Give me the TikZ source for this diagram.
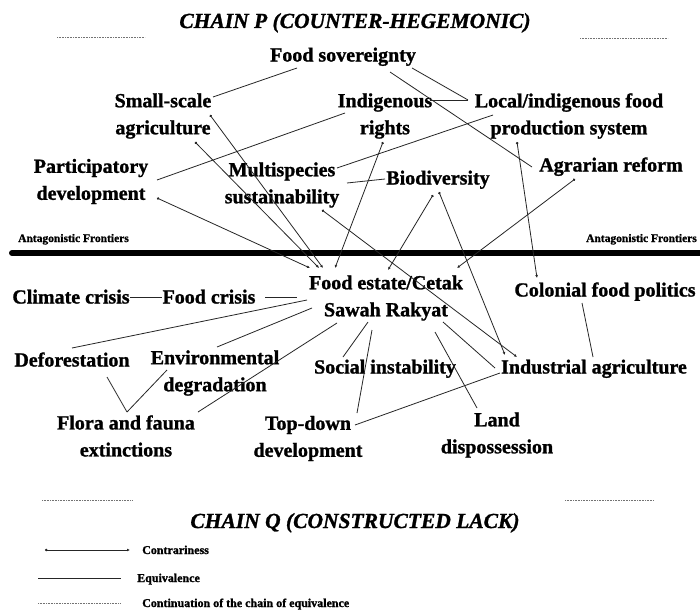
\documentclass[tikz,border=0pt]{standalone}
\usepackage{fontspec}
\setmainfont{Liberation Serif}[BoldFeatures={FakeBold=1.2},BoldItalicFeatures={FakeBold=1.2}]
\usetikzlibrary{arrows.meta}
\begin{document}
\begin{tikzpicture}[x=1pt,y=-1pt,
  lbl/.style={font=\bfseries\fontsize{20}{27}\selectfont, align=center, inner sep=0pt},
  ttl/.style={font=\bfseries\itshape\fontsize{21.5}{26}\selectfont, inner sep=0pt, anchor=base},
  small/.style={font=\bfseries\fontsize{11.5}{14}\selectfont, inner sep=0pt, anchor=base},
  legtxt/.style={font=\bfseries\fontsize{12}{14}\selectfont, inner sep=0pt, anchor=base west},
  eq/.style={line width=0.8pt, black!85},
  contra/.style={line width=0.8pt, black!85, {Circle[length=2.4pt]}-{Latex[length=3pt,width=2.8pt]}},
  dotline/.style={line width=0.6pt, black!55, dash pattern=on 0.8pt off 0.8pt},
  frontier/.style={line width=6pt, black, line cap=round}]
\useasboundingbox (0,0) rectangle (700,610);
\fill[white] (0,0) rectangle (700,610);

% titles and frames
\node[ttl] (tp) at (355,28) {CHAIN P (COUNTER-HEGEMONIC)};
\node[ttl] (tq) at (355,528) {CHAIN Q (CONSTRUCTED LACK)};
\coordinate (d1a) at (57,37);  \coordinate (d1b) at (145,37);
\coordinate (d2a) at (580,38); \coordinate (d2b) at (668,38);
\coordinate (d3a) at (42,500); \coordinate (d3b) at (132,500);
\coordinate (d4a) at (565,500); \coordinate (d4b) at (654,500);
\draw[dotline] (d1a) -- (d1b);
\draw[dotline] (d2a) -- (d2b);
\draw[dotline] (d3a) -- (d3b);
\draw[dotline] (d4a) -- (d4b);

% frontier
\node[small, anchor=base west] (afl) at (18,242) {Antagonistic Frontiers};
\node[small, anchor=base east] (afr) at (697,242) {Antagonistic Frontiers};
\coordinate (fl) at (12,253); \coordinate (fr) at (712,253);
\draw[frontier] (fl) -- (fr);

% chain P nodes
\node[lbl, anchor=base] (fs) at (343,61.5) {Food sovereignty};
\node[lbl] (ss) at (163,116) {Small-scale\\agriculture};
\node[lbl] (ir) at (385,116) {Indigenous\\rights};
\node[lbl] (lf) at (569,116) {Local/indigenous food\\production system};
\node[lbl] (pd) at (91,181.5) {Participatory\\development};
\node[lbl] (ms) at (282,185) {Multispecies\\sustainability};
\node[lbl, anchor=base] (bd) at (438,184.5) {Biodiversity};
\node[lbl, anchor=base] (ar) at (611,171.5) {Agrarian reform};

% chain Q nodes
\node[lbl] (fe) at (386,298) {Food estate/Cetak\\Sawah Rakyat};
\node[lbl, anchor=base] (cc) at (71,303.5) {Climate crisis};
\node[lbl, anchor=base] (fc) at (209,303.5) {Food crisis};
\node[lbl, anchor=base] (cf) at (605,296.5) {Colonial food politics};
\node[lbl, anchor=base] (df) at (72,366.5) {Deforestation};
\node[lbl] (ed) at (215,373) {Environmental\\degradation};
\node[lbl, anchor=base] (si) at (385,373.5) {Social instability};
\node[lbl, anchor=base] (ia) at (594,373.5) {Industrial agriculture};
\node[lbl] (ff) at (126,436) {Flora and fauna\\extinctions};
\node[lbl] (td) at (308,438.5) {Top-down\\development};
\node[lbl] (ld) at (497,435) {Land\\dispossession};

% equivalence, chain P
\draw[eq] ([shift={(-46,6.5)}]fs.base) -- ([shift={(50,-19)}]ss.center);
\draw[eq] ([shift={(69,6.5)}]fs.base) -- ([shift={(-101,-16)}]lf.center);
\draw[eq] ([shift={(45,-16)}]ir.center) -- ([shift={(-101,-16)}]lf.center);
\draw[eq] ([shift={(47,10.5)}]fs.base) -- ([shift={(-79,-4.5)}]ar.base);
\draw[eq] ([shift={(66,-1.5)}]pd.center) -- ([shift={(-40,-3)}]ir.center);
\draw[eq] ([shift={(55,-17)}]ms.center) -- ([shift={(-76,-1)}]lf.center);
\draw[eq] ([shift={(65,-2)}]ms.center) -- ([shift={(-53,-5.5)}]bd.base);

% equivalence, chain Q
\draw[eq] ([shift={(59,-6.5)}]cc.base) -- ([shift={(-47,-6.5)}]fc.base);
\draw[eq] ([shift={(56,-6.5)}]fc.base) -- ([shift={(-89,-1)}]fe.center);
\draw[eq] ([shift={(0,-18.5)}]df.base) -- ([shift={(-79,2)}]fe.center);
\draw[eq] ([shift={(2,-26)}]ed.center) -- ([shift={(-74,10)}]fe.center);
\draw[eq] ([shift={(72,-24)}]ff.center) -- ([shift={(-49,25)}]fe.center);
\draw[eq] ([shift={(35,10.5)}]df.base) -- ([shift={(1,-24)}]ff.center);
\draw[eq] ([shift={(-48,-3)}]ed.center) -- ([shift={(1,-24)}]ff.center);
\draw[eq] ([shift={(-42,-16.5)}]si.base) -- ([shift={(-18,24)}]fe.center);
\draw[eq] ([shift={(49,-25.5)}]td.center) -- ([shift={(-14,32)}]fe.center);
\draw[eq] ([shift={(47,-13.5)}]td.center) -- ([shift={(-94,-0.5)}]ia.base);
\draw[eq] ([shift={(-20,-27)}]ld.center) -- ([shift={(49,34)}]fe.center);
\draw[eq] ([shift={(-99,-5.5)}]ia.base) -- ([shift={(57,24)}]fe.center);
\draw[eq] ([shift={(-23,6.5)}]cf.base) -- ([shift={(-1,-16.5)}]ia.base);

% contrariness
\draw[contra] ([shift={(47,-1)}]ss.center) -- ([shift={(-63,-30)}]fe.center);
\draw[contra] ([shift={(32,26)}]ss.center) -- ([shift={(-67,-30)}]fe.center);
\draw[contra] ([shift={(66,16.5)}]pd.center) -- ([shift={(-76,-30)}]fe.center);
\draw[contra] ([shift={(-2,26)}]ir.center) -- ([shift={(-51,-30)}]fe.center);
\draw[contra] ([shift={(-5,10.5)}]bd.base) -- ([shift={(2,-28)}]fe.center);
\draw[contra] ([shift={(-36,7.5)}]ar.base) -- ([shift={(71,-30)}]fe.center);
\draw[contra] ([shift={(-52,26)}]lf.center) -- ([shift={(-68,-18.5)}]cf.base);
\draw[contra] ([shift={(40,25)}]ms.center) -- ([shift={(-77,-16.5)}]ia.base);
\draw[contra] ([shift={(1,7.5)}]bd.base) -- ([shift={(-89,-18.5)}]ia.base);

% legend
\coordinate (l1a) at (45,550); \coordinate (l1b) at (130,550);
\coordinate (l2a) at (38,578); \coordinate (l2b) at (121,578);
\coordinate (l3a) at (38,603); \coordinate (l3b) at (121,603);
\draw[contra] (l1a) -- (l1b);
\draw[eq] (l2a) -- (l2b);
\draw[dotline] (l3a) -- (l3b);
\node[legtxt] (lt1) at (142,554) {Contrariness};
\node[legtxt] (lt2) at (137,582) {Equivalence};
\node[legtxt] (lt3) at (142,607) {Continuation of the chain of equivalence};
\end{tikzpicture}
\end{document}
